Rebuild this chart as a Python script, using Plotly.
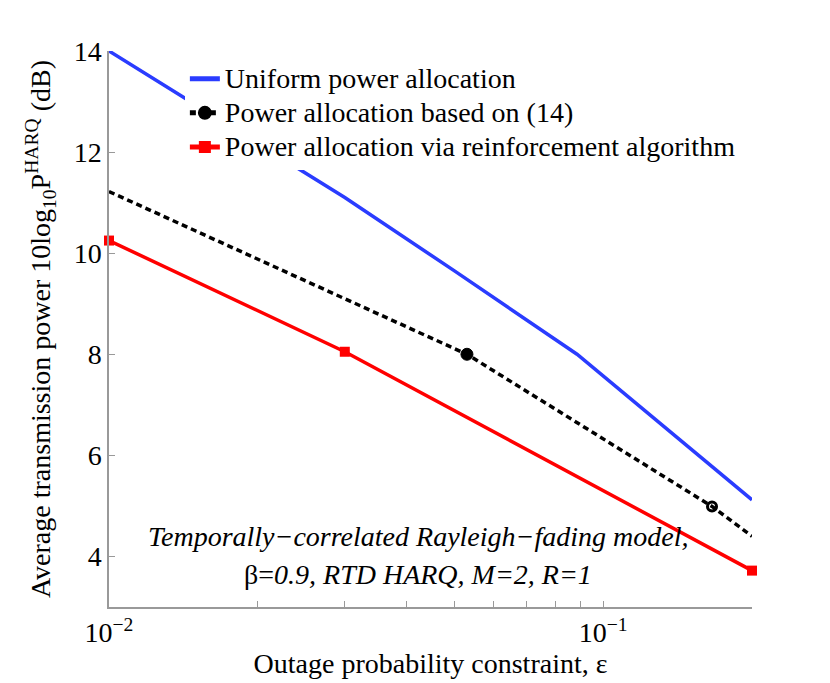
import plotly.graph_objects as go

# --- data ---
eps_uniform = [0.01, 0.03, 0.05, 0.0885, 0.2]
pwr_uniform = [14.0, 11.1, 9.65, 8.0, 5.12]

eps_eq14 = [0.01, 0.053, 0.166, 0.2]
pwr_eq14 = [11.22, 8.0, 4.99, 4.4]

eps_rl = [0.01, 0.03, 0.2]
pwr_rl = [10.25, 8.05, 3.72]

x_tickvals = [0.01, 0.02, 0.03, 0.04, 0.05, 0.06, 0.07, 0.08, 0.09, 0.1, 0.2]
x_ticktext = ["10<sup>\u22122</sup>", "", "", "", "", "", "", "", "", "10<sup>\u22121</sup>", ""]
y_tickvals = [4, 6, 8, 10, 12, 14]

FONT = "Liberation Serif, Times New Roman, serif"
FS = 28
BLUE = "#2a3cff"
RED = "#ff0000"


def leg(txt):
    # bigger glyphs than the legend font, so the rows stay tight like the original
    return f"<span style='font-size:{FS}px'>{txt}</span>"


fig = go.Figure()

fig.add_trace(go.Scatter(
    x=eps_uniform, y=pwr_uniform, mode="lines",
    name=leg("Uniform power allocation"),
    line=dict(color=BLUE, width=3.5),
))

fig.add_trace(go.Scatter(
    x=eps_eq14, y=pwr_eq14, mode="lines+markers",
    name=leg("Power allocation based on (14)"),
    line=dict(color="#000000", width=3.5, dash="6px,4px"),
    marker=dict(color="#000000", opacity=1, size=[0, 12, 9, 0],
                symbol=["circle", "circle", "circle-open", "circle"],
                line=dict(color="#000000", width=[0, 1, 3, 0])),
    opacity=1,
    cliponaxis=False,
))

fig.add_trace(go.Scatter(
    x=eps_rl, y=pwr_rl, mode="lines+markers",
    name=leg("Power allocation via reinforcement algorithm"),
    line=dict(color=RED, width=3.5),
    marker=dict(color=RED, size=10, symbol="square"),
    cliponaxis=False,
))

fig.update_layout(
    width=830, height=683,
    paper_bgcolor="white", plot_bgcolor="white",
    margin=dict(l=101, r=86, t=43, b=84),
    font=dict(family=FONT, size=FS, color="black"),
    showlegend=True,
    legend=dict(
        x=0.118, y=0.99, xanchor="left", yanchor="top",
        bgcolor="rgba(255,255,255,1)", borderwidth=0,
        font=dict(family=FONT, size=24),
        itemwidth=30, itemsizing="constant",
    ),
    annotations=[
        dict(text="<i>Temporally\u2212correlated Rayleigh\u2212fading model,</i>",
             x=0.481, y=0.127, xref="paper", yref="paper", showarrow=False,
             xanchor="center", yanchor="middle", font=dict(size=FS)),
        dict(text="\u03b2=<i>0.9, RTD HARQ, M=2, R=1</i>",
             x=0.481, y=0.058, xref="paper", yref="paper", showarrow=False,
             xanchor="center", yanchor="middle", font=dict(size=FS)),
    ],
)

fig.update_xaxes(
    type="log", range=[-2, -0.69897],
    tickvals=x_tickvals, ticktext=x_ticktext,
    ticks="inside", ticklen=6, tickcolor="#999999",
    showline=True, linecolor="#999999", linewidth=1.5,
    showgrid=False, zeroline=False,
    tickfont=dict(size=FS),
    title=dict(text="Outage probability constraint, \u03b5", font=dict(size=FS), standoff=1),
)

fig.update_yaxes(
    range=[3, 14], tickvals=y_tickvals,
    ticks="inside", ticklen=6, tickcolor="#999999",
    showline=True, linecolor="#999999", linewidth=1.5,
    showgrid=False, zeroline=False,
    tickfont=dict(size=FS),
    title=dict(text="Average transmission power 10log<sub>10</sub>P<sup>HARQ</sup> (dB)",
               font=dict(size=FS), standoff=15),
)

fig.write_html("out.html")
